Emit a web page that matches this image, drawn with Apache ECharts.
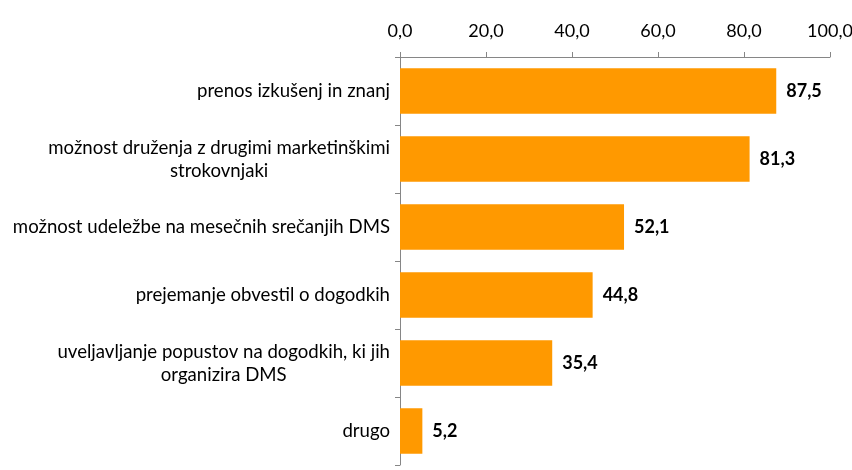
<!DOCTYPE html>
<html>
<head>
<meta charset="utf-8">
<script src="https://cdn.jsdelivr.net/npm/echarts@6/dist/echarts.min.js"></script>
<style>
html,body{margin:0;padding:0;background:#fff;}
#container{width:852px;height:470px;}
</style>
</head>
<body>
<div id="container"></div>
<script>
var categories = [
	'prenos izkušenj in znanj',
	'možnost druženja z drugimi marketinškimi\nstrokovnjaki',
	'možnost udeležbe na mesečnih srečanjih DMS',
	'prejemanje obvestil o dogodkih',
	'uveljavljanje popustov na dogodkih, ki jih\norganizira DMS',
	'drugo'
];
var values = [87.5, 81.3, 52.1, 44.8, 35.4, 5.2];

function fmt(v) {
	return v.toFixed(1).replace('.', ',');
}

var dom = document.getElementById("container");
var myChart = echarts.init(dom);
var option = {
	animation: false,
	textStyle: {fontFamily: 'Lato'},
	grid: {left: 400, right: 22, top: 57, bottom: 5, containLabel: false, outerBoundsMode: 'none'},
	xAxis: {
		type: 'value',
		position: 'top',
		min: 0,
		max: 100,
		interval: 20,
		splitLine: {show: false},
		axisLine: {show: true, lineStyle: {color: '#868686'}},
		axisTick: {show: true, length: 5, lineStyle: {color: '#868686'}},
		axisLabel: {
			color: '#000',
			fontSize: 18,
			margin: 17,
			formatter: function (v) { return fmt(v); }
		}
	},
	yAxis: {
		type: 'category',
		inverse: true,
		data: categories,
		axisLine: {show: true, lineStyle: {color: '#868686'}},
		axisTick: {show: true, length: 5, lineStyle: {color: '#868686'}},
		axisLabel: {
			color: '#000',
			fontSize: 18.6,
			margin: 10,
			formatter: function (v) {
				return v.split('\n').map(function (s) { return '{c|' + s + '}'; }).join('\n');
			},
			rich: {
				c: {align: 'center', fontSize: 18.6, color: '#000', lineHeight: 23}
			}
		}
	},
	series: [{
		type: 'bar',
		data: values,
		barCategoryGap: '33%',
		itemStyle: {color: '#FF9900'},
		label: {
			show: true,
			position: 'right',
			distance: 10,
			color: '#000',
			fontWeight: 'bold',
			fontSize: 18,
			formatter: function (p) { return fmt(p.value); }
		}
	}]
};
myChart.setOption(option, true);
</script>
</body>
</html>
